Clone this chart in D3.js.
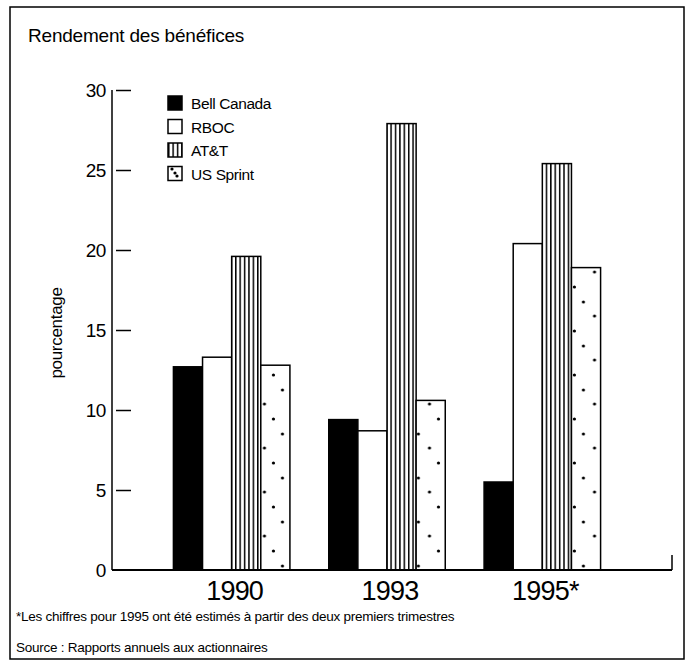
<!DOCTYPE html>
<html>
<head>
<meta charset="utf-8">
<script src="https://cdn.jsdelivr.net/npm/d3@7"></script>
<style>
  body { margin: 0; background: #fff; }
  svg text { font-family: "Liberation Sans", Arial, sans-serif; fill: #000; }
</style>
</head>
<body>
<div id="chart"></div>
<script>
const years = ["1990", "1993", "1995*"];
const series = ["Bell Canada", "RBOC", "AT&T", "US Sprint"];
const bell = [12.7, 9.4, 5.5];
const rboc = [13.3, 8.7, 20.4];
const att = [19.6, 27.9, 25.4];
const sprint = [12.8, 10.6, 18.9];
const yTicks = [0, 5, 10, 15, 20, 25, 30];

const W = 686, H = 661;
const values = [bell, rboc, att, sprint];

const svg = d3.select("#chart").append("svg")
  .attr("width", W).attr("height", H);

const AX = 112, AY = 570;
const y = d3.scaleLinear().domain([0, 30]).range([570, 90]);
const x0 = d3.scaleBand().domain(years).range([154, 620])
  .paddingInner(0.25).paddingOuter(0.125);
const x1 = d3.scaleBand().domain(series).range([0, x0.bandwidth()]);
const bw = x1.bandwidth();

// patterns
const defs = svg.append("defs");
const vl = defs.append("pattern").attr("id", "vlines")
  .attr("patternUnits", "userSpaceOnUse").attr("width", 4.4).attr("height", 10);
vl.append("rect").attr("width", 4.4).attr("height", 10).attr("fill", "#fff");
vl.append("rect").attr("x", 0).attr("width", 1.5).attr("height", 10).attr("fill", "#000");

// dotted pattern, one per sprint bar so dots line up with the bar edges
function dotPattern(id, px, py, w, h, pts) {
  const p = defs.append("pattern").attr("id", id)
    .attr("patternUnits", "userSpaceOnUse")
    .attr("x", px).attr("y", py).attr("width", w).attr("height", h);
  p.append("rect").attr("width", w).attr("height", h).attr("fill", "#fff");
  pts.forEach(c => {
    p.append("circle").attr("cx", c[0]).attr("cy", c[1]).attr("r", 1.6).attr("fill", "#000");
  });
}
const LX = 168, LY = 96, LSTEP = 23.5;
dotPattern("dots", LX, LY + 3 * LSTEP, 14, 14, [[4, 4], [7, 8], [9, 11]]);
years.forEach((yr, i) =>
  dotPattern("dots" + i, x0(yr) + x1("US Sprint"), 2, bw, 44, [[5, 6], [14, 21], [23, 36]]));

function fillOf(j, i) {
  if (j === 0) return "#000";
  if (j === 1) return "#fff";
  if (j === 2) return "url(#vlines)";
  return i === undefined ? "url(#dots)" : `url(#dots${i})`;
}

// frame
svg.append("rect").attr("x", 10).attr("y", 7).attr("width", 674).attr("height", 652)
  .attr("fill", "none").attr("stroke", "#000").attr("stroke-width", 1.5);

svg.append("text").attr("x", 28).attr("y", 42)
  .attr("font-size", 19).attr("letter-spacing", -0.2)
  .text("Rendement des bénéfices");

const yAxis = svg.append("g").attr("transform", `translate(${AX},0)`)
  .call(d3.axisLeft(y).tickValues(yTicks).tickSize(-15).tickPadding(6));
yAxis.select(".domain").remove();
yAxis.selectAll(".tick text").attr("font-size", 19).attr("letter-spacing", -0.4)
  .attr("font-family", "Liberation Sans, Arial, sans-serif");
yAxis.selectAll(".tick line").attr("x1", 4).attr("x2", 19)
  .attr("stroke-width", 1.5)
  .filter(d => d === 0).remove();

svg.append("text")
  .attr("transform", `translate(62,333) rotate(-90)`)
  .attr("text-anchor", "middle").attr("font-size", 17).attr("letter-spacing", -0.3)
  .text("pourcentage");

// bars
const groups = svg.append("g").selectAll("g").data(years).join("g")
  .attr("transform", d => `translate(${x0(d)},0)`);
groups.selectAll("rect")
  .data((d, i) => series.map((s, j) => ({ s: s, v: values[j][i], j: j, i: i })))
  .join("rect")
  .attr("x", d => x1(d.s))
  .attr("y", d => y(d.v))
  .attr("width", bw)
  .attr("height", d => y(0) - y(d.v))
  .attr("fill", d => fillOf(d.j, d.i))
  .attr("stroke", "#000").attr("stroke-width", 1.5);

// axes lines
svg.append("line").attr("x1", AX).attr("x2", AX).attr("y1", y(30)).attr("y2", AY)
  .attr("stroke", "#000").attr("stroke-width", 1.5);
svg.append("line").attr("x1", AX).attr("x2", 672).attr("y1", AY).attr("y2", AY)
  .attr("stroke", "#000").attr("stroke-width", 2);
svg.append("line").attr("x1", 672).attr("x2", 672).attr("y1", AY - 15).attr("y2", AY)
  .attr("stroke", "#000").attr("stroke-width", 1.5);

// x labels
svg.append("g").selectAll("text").data(years).join("text")
  .attr("x", d => x0(d) + x0.bandwidth() / 2 + 3)
  .attr("y", 600)
  .attr("text-anchor", "middle").attr("font-size", 27).attr("letter-spacing", -0.8)
  .text(d => d);

// legend
const leg = svg.append("g").attr("transform", `translate(${LX},${LY})`);
const li = leg.selectAll("g").data(series).join("g")
  .attr("transform", (d, i) => `translate(0,${i * LSTEP})`);
li.append("rect").attr("width", 14).attr("height", 14)
  .attr("fill", (d, i) => fillOf(i)).attr("stroke", "#000").attr("stroke-width", 1.5);
li.append("text").attr("x", 23).attr("y", 13)
  .attr("font-size", 15.5).attr("letter-spacing", -0.4)
  .text(d => d);

svg.append("text").attr("x", 16).attr("y", 621)
  .attr("font-size", 13.5).attr("letter-spacing", -0.25)
  .text("*Les chiffres pour 1995 ont été estimés à partir des deux premiers trimestres");
svg.append("text").attr("x", 16).attr("y", 652)
  .attr("font-size", 13.5).attr("letter-spacing", -0.25)
  .text("Source : Rapports annuels aux actionnaires");
</script>
</body>
</html>
